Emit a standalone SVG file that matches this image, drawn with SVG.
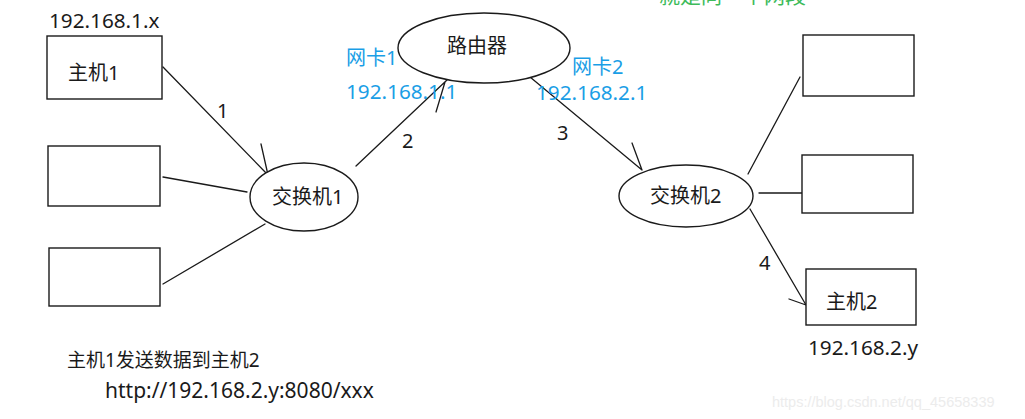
<svg xmlns="http://www.w3.org/2000/svg" width="1025" height="419" viewBox="0 0 1025 419">
<style>
.shape{fill:#fff;stroke:#1a1a1a;stroke-width:1.4}
.ln{fill:none;stroke:#1a1a1a;stroke-width:1.3;stroke-linecap:round}
.t{font-family:"Noto Sans","Noto Sans CJK SC",sans-serif;font-size:20px;fill:#1a1a1a}
.ip{font-size:20.7px}
.blue{fill:#1a9ee6}
.green{fill:#3dbb5a;font-size:21px}
.wm{font-family:"Liberation Sans",Arial,sans-serif;font-size:14.5px;fill:#ececec}
</style>
<rect width="1025" height="419" fill="#fff"/>
<text class="t green" x="659" y="3">就是同一个网段</text>
<g id="connectors">
<path class="ln" d="M163,67 L268,175 M261,144 L268,175"/>
<path class="ln" d="M163,177 L247,192"/>
<path class="ln" d="M163,284 L265,224"/>
<path class="ln" d="M356,166 L447,80 M436,112 L445,82"/>
<path class="ln" d="M530,77 L642,170 M632,143 L642,170"/>
<path class="ln" d="M748,174 L800,77"/>
<path class="ln" d="M759,193 L802,193"/>
<path class="ln" d="M750,209 L806,305 M789,299 L806,305"/>
<text class="t" x="217" y="118">1</text>
<text class="t" x="402" y="148">2</text>
<text class="t" x="557" y="140">3</text>
<text class="t" x="759" y="270">4</text>
</g>
<g id="host1">
<text class="t ip" x="49" y="28">192.168.1.x</text>
<rect class="shape" x="47" y="36" width="115" height="63"/>
<text class="t" x="68" y="80">主机1</text>
</g>
<g id="host-left-2"><rect class="shape" x="48" y="146" width="112" height="60"/></g>
<g id="host-left-3"><rect class="shape" x="49" y="248" width="111" height="58"/></g>
<g id="switch1">
<ellipse class="shape" cx="304" cy="197" rx="54" ry="34"/>
<text class="t" x="272" y="204">交换机1</text>
</g>
<g id="router">
<ellipse class="shape" cx="484" cy="48" rx="86" ry="35"/>
<text class="t" x="447" y="53">路由器</text>
</g>
<g id="nic1">
<text class="t blue" x="346" y="65">网卡1</text>
<text class="t blue ip" x="346" y="99">192.168.1.1</text>
</g>
<g id="nic2">
<text class="t blue" x="572" y="74">网卡2</text>
<text class="t blue ip" x="536" y="100">192.168.2.1</text>
</g>
<g id="switch2">
<ellipse class="shape" cx="686" cy="196" rx="67" ry="31"/>
<text class="t" x="650" y="203">交换机2</text>
</g>
<g id="host-right-1"><rect class="shape" x="803" y="35" width="111" height="61"/></g>
<g id="host-right-2"><rect class="shape" x="802" y="155" width="111" height="58"/></g>
<g id="host2">
<rect class="shape" x="806" y="269" width="110" height="56"/>
<text class="t" x="826" y="309">主机2</text>
<text class="t ip" x="808" y="355">192.168.2.y</text>
</g>
<g id="notes">
<text class="t" x="67" y="367" style="font-size:19px">主机1发送数据到主机2</text>
<text class="t" x="105" y="398" style="font-size:21px">http://192.168.2.y:8080/xxx</text>
</g>
<text class="wm" x="772" y="407">https://blog.csdn.net/qq_45658339</text>
</svg>
